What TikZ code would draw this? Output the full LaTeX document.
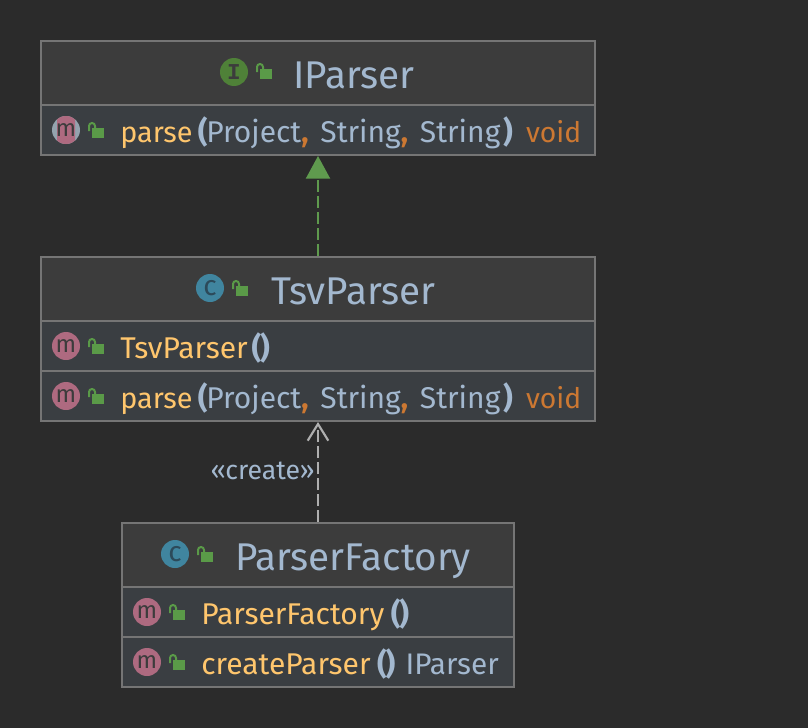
\documentclass[tikz,border=0pt]{standalone}
\usepackage{fontspec}
\setmainfont{Fira Sans}
\newfontfamily\iconfont{Liberation Mono}
\usetikzlibrary{arrows.meta}
\definecolor{bgcol}{HTML}{2B2B2B}
\definecolor{headcol}{HTML}{3C3C3C}
\definecolor{rowcol}{HTML}{3A3E42}
\definecolor{bordercol}{HTML}{757575}
\definecolor{namecol}{HTML}{A3B8CF}
\definecolor{methodcol}{HTML}{FFC66D}
\definecolor{typecol}{HTML}{CC7832}
\definecolor{lockcol}{HTML}{5A9A48}
\definecolor{icol}{HTML}{4F8138}
\definecolor{ccol}{HTML}{40859F}
\definecolor{cletter}{HTML}{2C4A5A}
\definecolor{mcol}{HTML}{AE6A80}
\definecolor{greycol}{HTML}{94A3AE}
\definecolor{arrowcol}{HTML}{5F9A4E}
\definecolor{depcol}{HTML}{AFAFAF}
\newcommand{\pname}[1]{\textcolor{methodcol}{#1}}
\newcommand{\pshort}[1]{\textcolor{methodcol}{\fontsize{21.6}{21.6}\selectfont #1}}
\newcommand{\ptype}[1]{\textcolor{namecol}{#1}}
\newcommand{\pcomma}{\textcolor{typecol}{\textbf{,}}\hspace{3pt}}
\newcommand{\popen}{\textcolor{namecol}{\textbf{(}}\hspace{-1pt}}
\newcommand{\pclose}{\textcolor{namecol}{\textbf{)}}}
\tikzset{
  classbox/.style={draw=bordercol,line width=1.5pt,inner sep=0pt},
  divider/.style={draw=bordercol,line width=1.5pt},
  titletext/.style={text=namecol,anchor=base,inner sep=0pt,font=\fontsize{29}{29}\selectfont},
  membertext/.style={anchor=base west,inner sep=0pt,font=\fontsize{22.5}{22.5}\selectfont},
  rettext/.style={anchor=base east,inner sep=0pt,font=\fontsize{21.2}{21.2}\selectfont},
  kindicon/.style={circle,minimum size=21pt,inner sep=0pt,text=headcol},
  pics/lockicon/.style={code={
    \fill[lockcol] (-4,3) rectangle (8,-7);
    \draw[lockcol,line width=1.5pt] (-7,0) -- (-7,5) arc[start angle=180,end angle=0,radius=3] -- (-1,3);
  }},
  realize/.style={draw=arrowcol,line width=1.6pt,dash pattern=on 9pt off 3pt,-{Triangle[length=17pt,width=18pt,fill=arrowcol]}},
  depend/.style={draw=depcol,line width=1.6pt,dash pattern=on 9pt off 3pt,-{Straight Barb[length=12.5pt,width=15.5pt,line width=1.6pt]}}
}
\begin{document}
\begin{tikzpicture}[x=0.75pt,y=0.75pt,yscale=-1,xscale=1]
\fill[bgcol] (0,0) rectangle (808,728);
\useasboundingbox (0,0) rectangle (808,728);

%IParser
\fill[headcol] (41,41) rectangle (595,105);
\fill[rowcol] (41,105) rectangle (595,155);
\draw[divider] (41,105) -- (595,105);
\node (iparser) [classbox,minimum width=415.5pt,minimum height=85.5pt] at (318,98) {};
\node (iicon) [kindicon,fill=icol] at (234,72) {\fontsize{17}{17}\selectfont\iconfont\bfseries I};
\pic at (264,72) {lockicon};
\node (ititle) [titletext] at (354,88) {IParser};
\begin{scope}
\fill[greycol] (66,130) circle (14);
\clip (66,130) circle (14);
\fill[mcol,rounded corners=3pt] (57,114) rectangle (75,146);
\end{scope}
\node (imicon) [kindicon] at (66,130) {\fontsize{18}{18}\selectfont m};
\pic at (96,131) {lockicon};
\node (imember) [membertext] at (120,142) {\pshort{parse}\hspace{4pt}\popen\ptype{Project}\pcomma{} \ptype{String}\pcomma{} \ptype{String}\hspace{2pt}\pclose};
\node (ivoid) [rettext,text=typecol] at (581.5,142) {void};

%TsvParser
\fill[headcol] (41,257) rectangle (595,321);
\fill[rowcol] (41,321) rectangle (595,421);
\draw[divider] (41,321) -- (595,321);
\draw[divider] (41,371) -- (595,371);
\node (tsvparser) [classbox,minimum width=415.5pt,minimum height=123pt] at (318,339) {};
\node (ticon) [kindicon,fill=ccol,text=cletter] at (210,288) {\fontsize{21}{21}\selectfont c};
\pic at (240,289) {lockicon};
\node (ttitle) [titletext] at (353.5,304) {TsvParser};
\node (tmicon) [kindicon,fill=mcol] at (66,346) {\fontsize{18}{18}\selectfont m};
\pic at (96,347) {lockicon};
\node (tctor) [membertext] at (120,358) {\pname{TsvParser}\hspace{3pt}\popen\pclose};
\node (tmicontwo) [kindicon,fill=mcol] at (66,396) {\fontsize{18}{18}\selectfont m};
\pic at (96,397) {lockicon};
\node (tmember) [membertext] at (120,408) {\pshort{parse}\hspace{4pt}\popen\ptype{Project}\pcomma{} \ptype{String}\pcomma{} \ptype{String}\hspace{2pt}\pclose};
\node (tvoid) [rettext,text=typecol] at (581.5,408) {void};

%ParserFactory
\fill[headcol] (122,523) rectangle (514,587);
\fill[rowcol] (122,587) rectangle (514,687);
\draw[divider] (122,587) -- (514,587);
\draw[divider] (122,637) -- (514,637);
\node (factory) [classbox,minimum width=294pt,minimum height=123pt] at (318,605) {};
\node (ficon) [kindicon,fill=ccol,text=cletter] at (175,554) {\fontsize{21}{21}\selectfont c};
\pic at (205,555) {lockicon};
\node (ftitle) [titletext] at (353,570) {ParserFactory};
\node (fmicon) [kindicon,fill=mcol] at (147,612) {\fontsize{18}{18}\selectfont m};
\pic at (177,613) {lockicon};
\node (fctor) [membertext] at (201,624) {\pname{ParserFactory}\hspace{5pt}\popen\pclose};
\node (fmicontwo) [kindicon,fill=mcol] at (147,662) {\fontsize{18}{18}\selectfont m};
\pic at (177,663) {lockicon};
\node (fmember) [membertext] at (201,674) {\pname{createParser}\hspace{5pt}\popen\pclose};
\node (freturn) [rettext,text=namecol,font=\fontsize{22.3}{22.3}\selectfont] at (499,674) {IParser};

%Connectors
\draw[realize] (tsvparser.north) -- (iparser.south);
\draw[depend] (factory.north) -- (tsvparser.south);
\node (createlabel) [anchor=base east,inner sep=0pt,text=namecol,font=\fontsize{20}{20}\selectfont] at (315,479) {«create»};
\end{tikzpicture}
\end{document}
